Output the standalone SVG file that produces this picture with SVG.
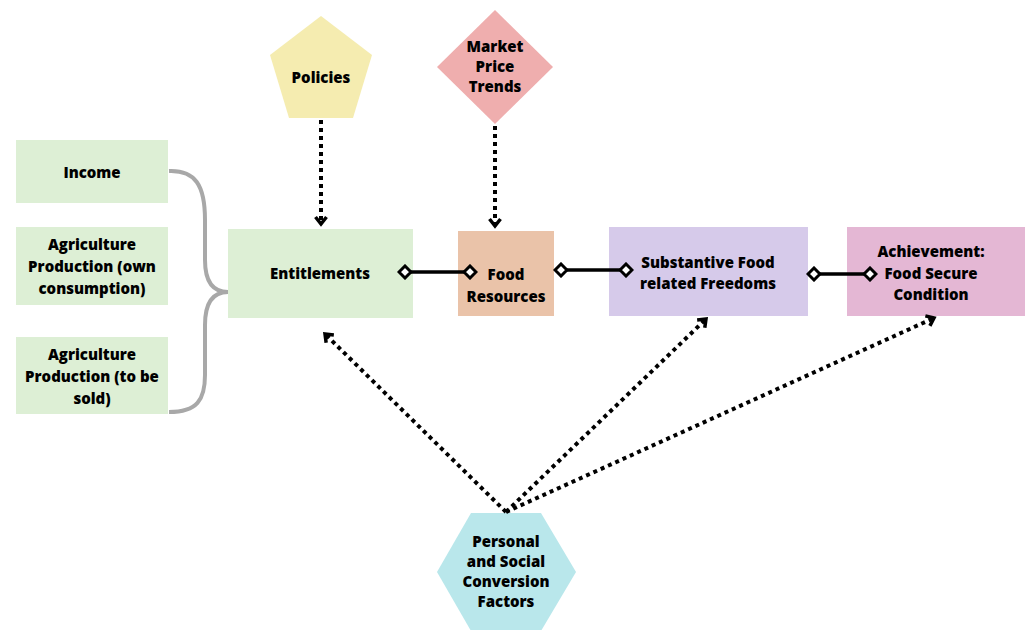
<svg xmlns="http://www.w3.org/2000/svg" width="1027" height="630" viewBox="0 0 1027 630">
<style>
text{font-family:"Open Sans","Liberation Sans",sans-serif;font-weight:800;font-size:15px;fill:#000;text-anchor:middle}
.dot{fill:none;stroke:#000;stroke-width:4;stroke-dasharray:4 4}
.solid{fill:none;stroke:#000;stroke-width:3.5}
.g{fill:#ddefd5}
</style>
<defs>
<marker id="chev" viewBox="0 0 14 14" refX="9" refY="7" markerWidth="14" markerHeight="14" markerUnits="userSpaceOnUse" orient="auto">
<path d="M2,1.5 L9,7 L2,12.5" fill="none" stroke="#000" stroke-width="3.5"/>
</marker>
<marker id="dia" viewBox="0 0 16 16" refX="8" refY="8" markerWidth="16" markerHeight="16" markerUnits="userSpaceOnUse" orient="auto">
<path d="M2,8 L8,2 L14,8 L8,14 Z" fill="#fff" stroke="#000" stroke-width="3"/>
</marker>
</defs>
<rect width="1027" height="630" fill="#fff"/>
<g id="income"><rect class="g" x="16" y="140" width="152" height="63"/><text x="92" y="178">Income</text></g>
<g id="agri-own"><rect class="g" x="16" y="227" width="152" height="78"/><text x="92" y="250">Agriculture</text><text x="92" y="272">Production (own</text><text x="92" y="294">consumption)</text></g>
<g id="agri-sold"><rect class="g" x="16" y="337" width="152" height="77"/><text x="92" y="360">Agriculture</text><text x="92" y="382">Production (to be</text><text x="92" y="404">sold)</text></g>
<g id="brace"><path d="M169,171 C195,170 205,185 205,220 L205,260 C205,282 213,292 228,292 C213,292 205,302 205,325 L205,375 C205,400 197,412 169,412" fill="none" stroke="#a8a8a8" stroke-width="4"/></g>
<g id="entitlements"><rect class="g" x="228" y="229" width="185" height="89"/><text x="320" y="279">Entitlements</text></g>
<g id="food"><rect x="458" y="231" width="96" height="85" fill="#eac3a9"/><text x="506" y="280">Food</text><text x="506" y="302">Resources</text></g>
<g id="substantive"><rect x="609" y="227" width="199" height="89" fill="#d6caea"/><text x="708" y="268">Substantive Food</text><text x="708" y="289">related Freedoms</text></g>
<g id="achievement"><rect x="847" y="227" width="178" height="89" fill="#e4b7d4"/><text x="931" y="257">Achievement:</text><text x="931" y="279">Food Secure</text><text x="931" y="300">Condition</text></g>
<g id="policies"><polygon points="321,16 372,55 353,118 289,118 270,55" fill="#f5ecb0"/><text x="321" y="83">Policies</text></g>
<g id="market"><polygon points="495,10 553,67 495,124 437,67" fill="#efaeae"/><text x="495" y="52">Market</text><text x="495" y="72">Price</text><text x="495" y="92">Trends</text></g>
<g id="factors"><polygon points="471,513 541,513 576,572 541,631 471,631 437,572" fill="#b9e7eb"/><text x="506" y="547">Personal</text><text x="506" y="567">and Social</text><text x="506" y="587">Conversion</text><text x="506" y="607">Factors</text></g>
<g id="connectors">
<path class="dot" d="M321,120 V224" marker-end="url(#chev)"/>
<path class="dot" d="M495,126 V226" marker-end="url(#chev)"/>
<path class="solid" d="M405,272 H470" marker-start="url(#dia)" marker-end="url(#dia)"/>
<path class="solid" d="M561,270 H626" marker-start="url(#dia)" marker-end="url(#dia)"/>
<path class="solid" d="M814,274 H870" marker-start="url(#dia)" marker-end="url(#dia)"/>
<path class="dot" d="M506,512 L325,334" marker-end="url(#chev)"/>
<path class="dot" d="M506,512 L706,319" marker-end="url(#chev)"/>
<path class="dot" d="M506,512 L934,318" marker-end="url(#chev)"/>
</g>
</svg>
